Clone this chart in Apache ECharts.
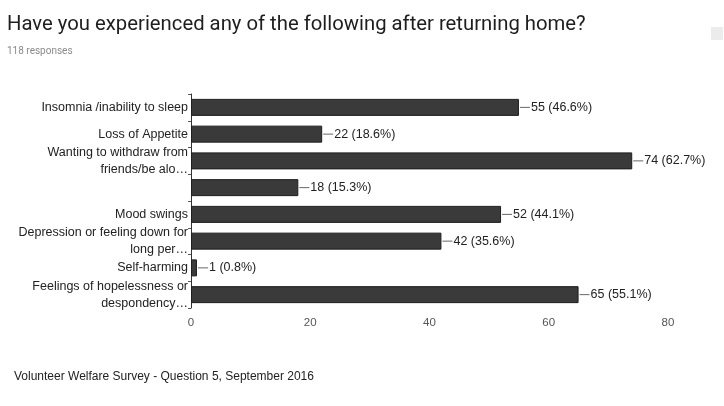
<!DOCTYPE html>
<html>
<head>
<meta charset="utf-8">
<script src="https://cdn.jsdelivr.net/npm/echarts@6/dist/echarts.min.js"></script>
<style>
html, body { margin: 0; padding: 0; background: #fff; }
#main { width: 724px; height: 406px; }
</style>
</head>
<body>
<div id="main"></div>
<script>
var categories = [
	'Insomnia /inability to sleep',
	'Loss of Appetite',
	'Wanting to withdraw from\nfriends/be alo\u2026',
	'',
	'Mood swings',
	'Depression or feeling down for\nlong per\u2026',
	'Self-harming',
	'Feelings of hopelessness or\ndespondency\u2026'
];
var counts = [55, 22, 74, 18, 52, 42, 1, 65];
var percents = ['46.6', '18.6', '62.7', '15.3', '44.1', '35.6', '0.8', '55.1'];
var xTicks = [0, 20, 40, 60, 80];

var chartDom = document.getElementById('main');
var myChart = echarts.init(chartDom);
var option;
option = {
	backgroundColor: '#fff',
	textStyle: { fontFamily: 'Liberation Sans' },
	title: [{
			text: 'Have you experienced any of the following after returning home?',
			left: 2,
			top: 10,
			textStyle: { fontFamily: 'Roboto', fontSize: 20.3, fontWeight: 'normal', color: '#1e1e1e' }
		},
		{
			text: '118 responses',
			left: 2,
			top: 41,
			textStyle: { fontFamily: 'Roboto', fontSize: 10, fontWeight: 'normal', color: '#8a8a8a' }
		},
		{
			text: 'Volunteer Welfare Survey - Question 5, September 2016',
			left: 9,
			top: 366,
			textStyle: { fontFamily: 'Liberation Sans', fontSize: 12, fontWeight: 'normal', color: '#222' }
		}
	],
	grid: {
		left: 191,
		right: 56,
		top: 94,
		bottom: 98
	},
	xAxis: {
		type: 'value',
		min: 0,
		max: 80,
		interval: 20,
		splitLine: { show: false },
		axisLine: { show: false },
		axisTick: { show: false },
		axisLabel: {
			color: '#555',
			fontSize: 11.5,
			margin: 9,
			formatter: function (v) { return xTicks.indexOf(v) >= 0 ? String(v) : ''; }
		}
	},
	yAxis: {
		type: 'category',
		inverse: true,
		data: categories,
		axisLine: { show: true, lineStyle: { color: '#333', width: 1 } },
		axisTick: { show: true, length: 3, lineStyle: { color: '#555' } },
		axisLabel: { color: '#222', fontSize: 12.5, margin: 3, lineHeight: 17, align: 'right' }
	},
	series: [{
		type: 'bar',
		barWidth: 17,
		data: counts,
		itemStyle: { color: '#3a3a3a', borderColor: '#1e1e1e', borderWidth: 1 },
		label: {
			show: true,
			position: 'right',
			distance: 1,
			color: '#222',
			fontSize: 12.5,
			formatter: function (p) {
				return '{l|}{t|' + counts[p.dataIndex] + ' (' + percents[p.dataIndex] + '%)}';
			},
			rich: {
				l: { width: 10, height: 1, backgroundColor: '#666' },
				t: { fontSize: 12.5, color: '#222', padding: [0, 0, 0, 1] }
			}
		}
	}],
	graphic: [{
		type: 'rect',
		left: 711,
		top: 27,
		shape: { width: 12, height: 13 },
		style: { fill: '#ececec' }
	}]
};
option && myChart.setOption(option);
</script>
</body>
</html>
